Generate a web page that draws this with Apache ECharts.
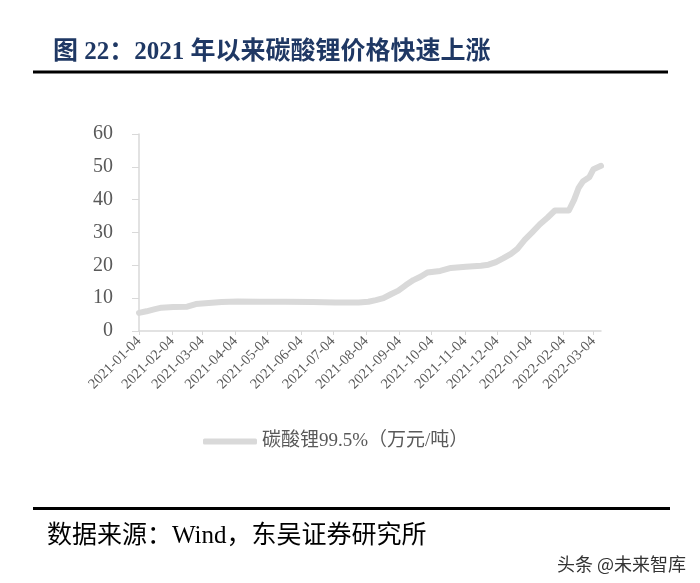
<!DOCTYPE html>
<html>
<head>
<meta charset="utf-8">
<script src="https://cdn.jsdelivr.net/npm/echarts@6/dist/echarts.min.js"></script>
<style>
html,body{margin:0;padding:0;background:#fff;}
#chart{width:700px;height:583px;}
</style>
</head>
<body>
<div id="chart"></div>
<script>
// ---- data ----
const titleText = '图 22：2021 年以来碳酸锂价格快速上涨';
const sourceText = '数据来源：Wind，东吴证券研究所';
const watermarkText = '头条 @未来智库';
const seriesName = '碳酸锂99.5%（万元/吨）';
const dates = [
  '2021-01-04','2021-01-11','2021-01-18','2021-01-25','2021-02-05','2021-02-18','2021-02-26',
  '2021-03-10','2021-03-22','2021-04-06','2021-04-26','2021-05-20','2021-06-15','2021-07-06',
  '2021-07-28','2021-08-06','2021-08-13','2021-08-20','2021-08-27','2021-09-03','2021-09-10',
  '2021-09-17','2021-09-24','2021-09-30','2021-10-12','2021-10-22','2021-11-05','2021-11-19',
  '2021-11-26','2021-12-03','2021-12-10','2021-12-17','2021-12-23','2021-12-30','2022-01-06',
  '2022-01-13','2022-01-20','2022-01-27','2022-02-09','2022-02-14','2022-02-18','2022-02-22',
  '2022-02-28','2022-03-04','2022-03-11'
];
const prices = [
  5.5, 6.0, 6.6, 7.1, 7.3, 7.4, 8.2,
  8.5, 8.8, 9.0, 8.9, 8.9, 8.8, 8.7,
  8.7, 8.9, 9.4, 10.0, 11.2, 12.3, 14.0,
  15.5, 16.6, 17.8, 18.3, 19.2, 19.6, 19.9,
  20.2, 21.0, 22.2, 23.5, 25.0, 27.8, 30.1,
  32.5, 34.5, 36.7, 36.7, 40.0, 43.5, 45.5,
  46.8, 49.3, 50.3
];
const tickDates = [
  '2021-01-04','2021-02-04','2021-03-04','2021-04-04','2021-05-04','2021-06-04','2021-07-04',
  '2021-08-04','2021-09-04','2021-10-04','2021-11-04','2021-12-04','2022-01-04','2022-02-04','2022-03-04'
];
const yMin = 0, yMax = 60, yStep = 10;

// ---- helpers ----
function ts(s){ const p = s.split('-').map(Number); return Date.UTC(p[0], p[1]-1, p[2]); }
function pad(n){ return (n < 10 ? '0' : '') + n; }
function fmt(v){ const d = new Date(v); return d.getUTCFullYear() + '-' + pad(d.getUTCMonth()+1) + '-' + pad(d.getUTCDate()); }

const seriesData = dates.map((d, i) => [ts(d), prices[i]]);
const tickValues = tickDates.map(ts);

const serifCJK = '"Liberation Serif", "Noto Sans CJK SC", serif';

const chart = echarts.init(document.getElementById('chart'), null, {renderer: 'canvas'});
chart.setOption({
  backgroundColor: '#ffffff',
  animation: false,
  title: {
    text: titleText,
    left: 48, top: 35,
    textStyle: { fontFamily: serifCJK, fontSize: 25, fontWeight: 'bold', color: '#1f3864' }
  },
  legend: {
    left: 198, top: 427,
    icon: 'roundRect',
    itemWidth: 54, itemHeight: 6,
    itemGap: 6,
    textStyle: { fontFamily: serifCJK, fontSize: 19, color: '#595959' },
    data: [{ name: seriesName, itemStyle: { color: '#d9d9d9' } }]
  },
  grid: { left: 139, right: 99, top: 134, bottom: 252, containLabel: false },
  xAxis: {
    type: 'value',
    min: ts(dates[0]),
    max: ts(dates[dates.length - 1]),
    splitLine: { show: false },
    axisLine: { show: true, lineStyle: { color: '#d9d9d9', width: 1.5 } },
    axisTick: { show: true, length: 4, lineStyle: { color: '#d9d9d9' }, customValues: tickValues },
    axisLabel: {
      customValues: tickValues,
      rotate: 45,
      margin: 8,
      fontFamily: '"Liberation Serif", serif',
      fontSize: 14.5,
      color: '#595959',
      formatter: fmt,
      hideOverlap: false
    }
  },
  yAxis: {
    type: 'value',
    min: yMin, max: yMax, interval: yStep,
    splitLine: { show: false },
    axisLine: { show: true, lineStyle: { color: '#d9d9d9', width: 1.5 } },
    axisTick: { show: true, length: 7, lineStyle: { color: '#d9d9d9' } },
    axisLabel: { margin: 26, fontFamily: '"Liberation Serif", serif', fontSize: 20, color: '#595959' }
  },
  series: [{
    name: seriesName,
    type: 'line',
    data: seriesData,
    showSymbol: false,
    symbol: 'none',
    lineStyle: { color: '#d9d9d9', width: 6, cap: 'round', join: 'round' },
    itemStyle: { color: '#d9d9d9' }
  }],
  graphic: [
    { type: 'line', shape: { x1: 33, y1: 72, x2: 668, y2: 72 }, style: { stroke: '#000', lineWidth: 3 } },
    { type: 'line', shape: { x1: 33, y1: 508.5, x2: 670, y2: 508.5 }, style: { stroke: '#000', lineWidth: 3 } },
    { type: 'text', left: 47, top: 524, style: { text: sourceText, font: '25px ' + serifCJK, fill: '#000' } },
    { type: 'text', left: 557, top: 555, style: { text: watermarkText, font: '18px "Noto Sans CJK SC", sans-serif', fill: '#333' } }
  ]
});
</script>
</body>
</html>
